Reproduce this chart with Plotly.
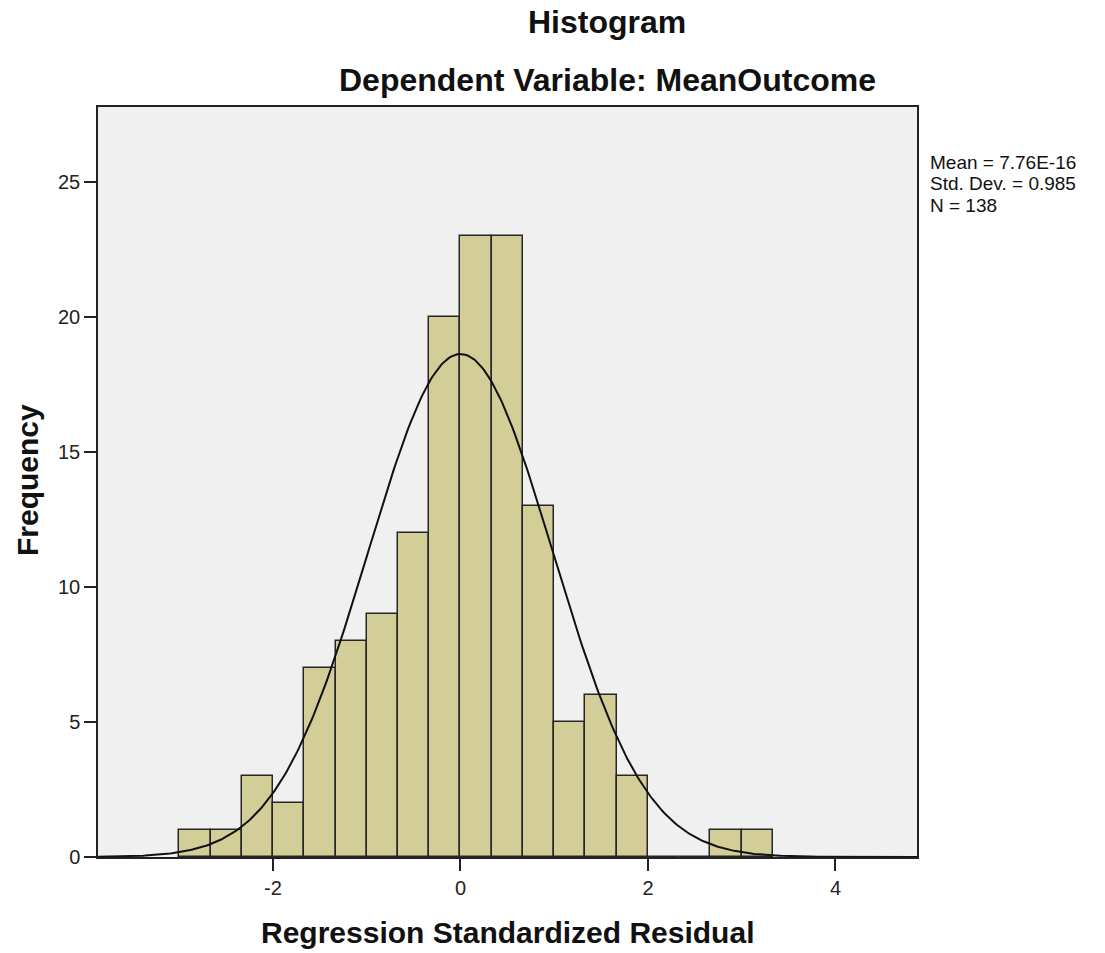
import numpy as np
import plotly.graph_objects as go

# Histogram bins (width 1/3) and counts
bin_width = 1.0 / 3.0
bin_starts = [-3.0, -8/3, -7/3, -2.0, -5/3, -4/3, -1.0, -2/3, -1/3, 0.0,
              1/3, 2/3, 1.0, 4/3, 5/3, 2.0, 7/3, 8/3, 3.0]
counts = [1, 1, 3, 2, 7, 8, 9, 12, 20, 23, 23, 13, 5, 6, 3, 0, 0, 1, 1]

# Summary statistics shown in the chart
mean_val = 7.76e-16
std_val = 0.985
n_val = 138
stats_lines = ["Mean = 7.76E-16", f"Std. Dev. = {std_val:.3f}", f"N = {n_val}"]

x_tickvals = [-2, 0, 2, 4]
x_ticktext = ["-2", "0", "2", "4"]
y_tickvals = [0, 5, 10, 15, 20, 25]

centers = [s + bin_width / 2 for s in bin_starts]

# Fitted normal curve (from the displayed mean, sd, N)
xc = np.linspace(-3.867, 4.87, 400)
yc = n_val * bin_width / (std_val * np.sqrt(2 * np.pi)) * np.exp(-0.5 * ((xc - mean_val) / std_val) ** 2)

# layout geometry (pixels); page body margin is removed by post_script
W, H = 1105, 953
L, T = 98, 107
R = W - 917
B = H - 857
pw, ph = W - L - R, H - T - B

def px_x(x):
    return (x - L) / pw

def px_y(y):
    return (H - B - y) / ph

fig = go.Figure()
fig.add_trace(go.Bar(
    x=centers, y=counts, width=[bin_width] * len(centers),
    marker=dict(color="#D3CE97", line=dict(color="#262626", width=1.5)),
    showlegend=False, hoverinfo="x+y"))
fig.add_trace(go.Scatter(
    x=xc, y=yc, mode="lines", line=dict(color="#111111", width=2),
    showlegend=False, hoverinfo="skip"))

font_fam = "Liberation Sans, Arial, sans-serif"
annotations = [
    dict(text="<b>Histogram</b>", x=px_x(607), y=px_y(22), font=dict(size=32)),
    dict(text="<b>Dependent Variable: MeanOutcome</b>", x=px_x(607), y=px_y(80), font=dict(size=32)),
    dict(text="<b>Regression Standardized Residual</b>", x=px_x(507), y=px_y(932), font=dict(size=30)),
    dict(text="<b>Frequency</b>", x=px_x(28), y=px_y(480), textangle=-90, font=dict(size=30)),
]
for a in annotations:
    a.update(xref="paper", yref="paper", xanchor="center", yanchor="middle", showarrow=False)
    a["font"].update(color="#111111", family=font_fam)

for i, line in enumerate(stats_lines):
    annotations.append(dict(
        text=line, xref="paper", yref="paper", x=px_x(929), y=px_y(162 + 21.5 * i),
        xanchor="left", yanchor="middle", align="left", showarrow=False, borderpad=0,
        font=dict(size=19, color="#111111", family=font_fam)))

axis_common = dict(showgrid=False, zeroline=False, automargin=False,
                   showline=True, mirror=True, linecolor="#222222", linewidth=1.5,
                   ticks="outside", ticklen=12, tickwidth=1.5, tickcolor="#222222",
                   tickfont=dict(size=20, color="#222222", family=font_fam))

fig.update_layout(
    width=W, height=H,
    margin=dict(l=L, r=R, t=T, b=B),
    paper_bgcolor="white", plot_bgcolor="#F0F0F0",
    bargap=0,
    font=dict(family=font_fam, color="#222222"),
    xaxis=dict(range=[-3.867, 4.87], tickvals=x_tickvals, ticktext=x_ticktext, **axis_common),
    yaxis=dict(range=[0, 27.78], tickvals=y_tickvals, **axis_common),
    annotations=annotations,
)

fig.write_html("out.html", config={"displayModeBar": False},
               post_script="document.body.style.margin='0px';")
